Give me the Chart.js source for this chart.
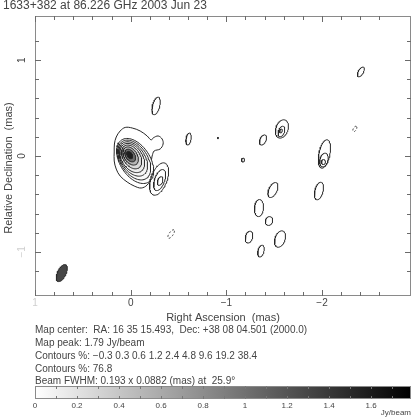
<!DOCTYPE html>
<html><head><meta charset="utf-8">
<script src="https://cdn.jsdelivr.net/npm/chart.js@4.4.1/dist/chart.umd.min.js"></script>
<style>
body{margin:0;background:#fff;}
#wrap{position:relative;width:415px;height:418px;overflow:hidden;font-family:"Liberation Sans",Arial,sans-serif;color:#444;}
.t{position:absolute;white-space:pre;line-height:1;}
.info{left:35px;font-size:10px;letter-spacing:0px;}
canvas{position:absolute;left:0;}
</style></head><body>
<div id="wrap">
<canvas id="map" width="415" height="325" style="top:0"></canvas>
<canvas id="cbar" width="415" height="40" style="top:378px"></canvas>
<div class="t" id="title" style="left:3px;top:-1.5px;font-size:12px"></div>
<div class="t info" id="l1" style="top:325px"></div>
<div class="t info" id="l2" style="top:338px"></div>
<div class="t info" id="l3" style="top:351px"></div>
<div class="t info" id="l4" style="top:364px"></div>
<div class="t info" id="l5" style="top:376px"></div>
<div class="t" id="unit" style="right:4px;top:409px;font-size:8px">Jy/beam</div>
</div>
<script>
// ---------- data ----------
const titleText = '1633+382 at 86.226 GHz 2003 Jun 23';
const peakJy = 1.79;
const contourLevelsPct = [-0.3, 0.3, 0.6, 1.2, 2.4, 4.8, 9.6, 19.2, 38.4, 76.8];

// axis ranges (mas)
const raMin = -2.93, raMax = 1.0, decMin = -1.46, decMax = 1.46;
const raLabelValues = [1, 0, -1, -2];
const raLabels = ['1', '0', '\u22121', '\u22122'];
const decLabelValues = [1, 0, -1];
const decLabels = ['1', '0', '\u22121'];

// core: outermost (0.3%) contour, read point by point (mas)
const outerRA  = [-0.224,-0.214,-0.224,-0.214,-0.172,-0.110,-0.037,0.037,0.110,0.151,0.172,0.172,0.170,0.151,0.110,0.057,-0.016,-0.099,-0.172,-0.214,-0.235,-0.287,-0.329,-0.339,-0.308,-0.245,-0.224];
const outerDec = [0.000,-0.073,-0.146,-0.230,-0.303,-0.334,-0.313,-0.271,-0.209,-0.136,-0.052,0.042,0.125,0.198,0.261,0.298,0.292,0.261,0.209,0.167,0.188,0.209,0.177,0.125,0.073,0.052,0.000];

// core: inner contours (levels 0.6% .. 76.8%) as ellipses (mas)
const coreLevel = [0.6, 1.2, 2.4, 4.8, 9.6, 19.2, 38.4, 76.8];
const coreRA    = [-0.047,-0.037,-0.026,-0.016,-0.010,0.000,0.005,0.010];
const coreDec   = [-0.052,-0.042,-0.031,-0.021,-0.010,0.000,0.005,0.010];
const coreMajor = [0.261,0.230,0.198,0.167,0.136,0.104,0.073,0.042];
const coreMinor = [0.157,0.141,0.125,0.110,0.089,0.068,0.047,0.026];
const coreTilt  = -33;

// other components (mas); tilt in degrees (top of ellipse toward lower RA positive)
const compLevel = [0.3,0.6,1.2, 0.3,0.3,0.3,0.3,0.6,1.2,0.3,0.3,-0.3,0.3,0.3,0.6,1.2,0.3,0.3,0.3,0.3,0.3,0.3,0.3,-0.3];
const compRA    = [-0.297,-0.303,-0.308,-0.266,-0.605,-1.383,-1.581,-1.576,-1.571,-2.406,-1.174,-2.343,-0.913,-2.025,-2.020,-2.015,-1.968,-1.487,-1.341,-1.446,-1.237,-1.561,-1.362,-0.423];
const compDec   = [-0.240,-0.251,-0.261,0.522,0.177,0.167,0.282,0.256,0.261,0.877,-0.042,0.282,0.188,0.021,-0.042,-0.063,-0.365,-0.355,-0.543,-0.678,-0.846,-0.866,-0.992,-0.814];
const compMajor = [0.177,0.115,0.047,0.094,0.063,0.057,0.099,0.057,0.021,0.057,0.021,0.031,0.008,0.151,0.073,0.026,0.094,0.084,0.089,0.047,0.063,0.089,0.063,0.052];
const compMinor = [0.084,0.052,0.026,0.037,0.026,0.031,0.063,0.031,0.013,0.026,0.016,0.016,0.005,0.057,0.042,0.021,0.042,0.042,0.047,0.037,0.037,0.052,0.031,0.021];
const compTilt  = [20,20,20,15,10,25,20,20,20,30,0,30,0,12,15,0,15,25,5,20,15,20,15,35];

// restoring beam
const beamRA = 0.720, beamDec = -1.221, beamMajor = 0.193, beamMinor = 0.0882, beamPA = 25.9;

// colour bar
const cbarTicks = [0, 0.2, 0.4, 0.6, 0.8, 1.0, 1.2, 1.4, 1.6];
const cbarMinor = [0.1,0.2,0.3,0.4,0.5,0.6,0.7,0.8,0.9,1.0,1.1,1.2,1.3,1.4,1.5,1.6,1.7];

// ---------- text ----------
const fmtLvl = v => (v < 0 ? '\u2212' + Math.abs(v) : String(v));
document.getElementById('title').textContent = titleText;
document.getElementById('l1').textContent = 'Map center:  RA: 16 35 15.493,  Dec: +38 08 04.501 (2000.0)';
document.getElementById('l2').textContent = 'Map peak: ' + peakJy + ' Jy/beam';
document.getElementById('l3').textContent = 'Contours %: ' + contourLevelsPct.slice(0, 9).map(fmtLvl).join(' ');
document.getElementById('l4').textContent = 'Contours %: ' + contourLevelsPct.slice(9).map(fmtLvl).join(' ');
document.getElementById('l5').textContent = 'Beam FWHM: ' + beamMajor + ' x ' + beamMinor + ' (mas) at  ' + beamPA + '\u00B0';

// ---------- helpers ----------
function ellipse(ra, dec, a, b, tiltDeg) {
  const t = tiltDeg * Math.PI / 180, pts = [];
  for (let k = 0; k <= 72; k++) {
    const f = 2 * Math.PI * k / 72, u = a * Math.cos(f), v = b * Math.sin(f);
    pts.push({x: ra - u * Math.sin(t) + v * Math.cos(t), y: dec + u * Math.cos(t) + v * Math.sin(t)});
  }
  return pts;
}
function grayFor(frac) {
  const g = Math.max(0, Math.min(255, Math.round(255 * (1 - frac))));
  return 'rgb(' + g + ',' + g + ',' + g + ')';
}
const lineCol = '#262626';
const datasets = [];

// beam
datasets.push({data: ellipse(beamRA, beamDec, beamMajor / 2, beamMinor / 2, beamPA), showLine: true, pointRadius: 0,
  borderColor: '#2a2a2a', borderWidth: 1, backgroundColor: '#464646', fill: 'shape', order: 0});

// core outer contour
datasets.push({data: outerRA.map((r, i) => ({x: r, y: outerDec[i]})), showLine: true, pointRadius: 0, tension: 0.35,
  borderColor: lineCol, borderWidth: 1, fill: false, order: 20});

// core inner contours, filled with the grey of the map between levels
coreLevel.forEach((lv, i) => {
  const next = i + 1 < coreLevel.length ? coreLevel[i + 1] : 100;
  const mid = (lv + next) / 200;
  datasets.push({data: ellipse(coreRA[i], coreDec[i], coreMajor[i], coreMinor[i], coreTilt), showLine: true, pointRadius: 0,
    borderColor: lineCol, borderWidth: 1, backgroundColor: grayFor(mid), fill: 'shape', order: 19 - i});
});

// other components
compLevel.forEach((lv, i) => {
  datasets.push({data: ellipse(compRA[i], compDec[i], compMajor[i], compMinor[i], compTilt[i]), showLine: true, pointRadius: 0,
    borderColor: lineCol, borderWidth: 1, borderDash: lv < 0 ? [2, 2] : [], fill: false, order: 1});
});

// ---------- decorations on the map ----------
const mapDecor = {
  id: 'mapDecor',
  afterDraw(chart) {
    const {ctx, chartArea: ca, scales: {x, y}} = chart;
    ctx.save();
    ctx.strokeStyle = '#8a8a8a'; ctx.lineWidth = 1;
    ctx.strokeRect(Math.round(ca.left) + 0.5, Math.round(ca.top) + 0.5, Math.round(ca.right - ca.left) - 1, Math.round(ca.bottom - ca.top) - 1);
    ctx.strokeStyle = '#6a6a6a';
    ctx.beginPath();
    const isStep = v => Math.abs(v * 5 - Math.round(v * 5)) < 1e-6;
    const isMajor = v => Math.abs(v - Math.round(v)) < 1e-6;
    x.ticks.forEach(t => {
      const v = t.value; if (!isStep(v)) return;
      const len = isMajor(v) ? 6 : 4, p = Math.round(x.getPixelForValue(v)) + 0.5;
      ctx.moveTo(p, ca.bottom); ctx.lineTo(p, ca.bottom - len);
      ctx.moveTo(p, ca.top); ctx.lineTo(p, ca.top + len);
    });
    y.ticks.forEach(t => {
      const v = t.value; if (!isStep(v)) return;
      const len = isMajor(v) ? 6 : 4, p = Math.round(y.getPixelForValue(v)) + 0.5;
      ctx.moveTo(ca.left, p); ctx.lineTo(ca.left + len, p);
      ctx.moveTo(ca.right, p); ctx.lineTo(ca.right - len, p);
    });
    ctx.stroke();
    ctx.fillStyle = '#444'; ctx.textAlign = 'center'; ctx.textBaseline = 'middle';
    ctx.font = '10px "Liberation Sans"';
    raLabelValues.forEach((v, i) => {
      ctx.fillStyle = (v === raMax) ? '#cfcfcf' : '#444';
      ctx.fillText(raLabels[i], x.getPixelForValue(v), ca.bottom + 7);
    });
    decLabelValues.forEach((v, i) => {
      ctx.fillStyle = (v === -1) ? '#cfcfcf' : '#444';
      ctx.save(); ctx.translate(ca.left - 13, y.getPixelForValue(v)); ctx.rotate(-Math.PI / 2);
      ctx.fillText(decLabels[i], 0, 0); ctx.restore();
    });
    ctx.fillStyle = '#444';
    ctx.font = '11px "Liberation Sans"';
    ctx.fillText('Right Ascension  (mas)', (ca.left + ca.right) / 2, ca.bottom + 22);
    ctx.save(); ctx.translate(9, (ca.top + ca.bottom) / 2 + 12); ctx.rotate(-Math.PI / 2);
    ctx.fillText('Relative Declination  (mas)', 0, 0); ctx.restore();
    ctx.restore();
  }
};

new Chart(document.getElementById('map'), {
  type: 'scatter',
  data: {datasets},
  options: {
    responsive: false, animation: false, devicePixelRatio: 1,
    layout: {padding: {top: 16, right: 4, left: 0, bottom: 0}},
    plugins: {legend: {display: false}, tooltip: {enabled: false}},
    scales: {
      x: {type: 'linear', reverse: true, min: raMin, max: raMax,
          ticks: {display: false, stepSize: 0.2}, grid: {display: false, drawTicks: false}, border: {display: false},
          afterFit(s) { s.height = 29; }},
      y: {type: 'linear', min: decMin, max: decMax,
          ticks: {display: false, stepSize: 0.2}, grid: {display: false, drawTicks: false}, border: {display: false},
          afterFit(s) { s.width = 35; }}
    }
  },
  plugins: [mapDecor]
});

// ---------- colour bar ----------
const cbarDecor = {
  id: 'cbarDecor',
  beforeDatasetsDraw(chart) {
    const {ctx, chartArea: ca, scales: {x}} = chart;
    const x0 = x.getPixelForValue(0), x1 = x.getPixelForValue(peakJy);
    const g = ctx.createLinearGradient(x0, 0, x1, 0);
    g.addColorStop(0, '#ffffff'); g.addColorStop(1, '#000000');
    ctx.save();
    ctx.fillStyle = g; ctx.fillRect(ca.left, ca.top, ca.right - ca.left, ca.bottom - ca.top);
    ctx.strokeStyle = '#8a8a8a'; ctx.lineWidth = 1;
    ctx.strokeRect(Math.round(ca.left) + 0.5, Math.round(ca.top) + 0.5, Math.round(ca.right - ca.left) - 1, Math.round(ca.bottom - ca.top) - 1);
    ctx.strokeStyle = '#777';
    ctx.beginPath();
    cbarMinor.forEach(v => {
      const p = Math.round(x.getPixelForValue(v)) + 0.5;
      ctx.moveTo(p, ca.top); ctx.lineTo(p, ca.top + 3);
      ctx.moveTo(p, ca.bottom); ctx.lineTo(p, ca.bottom - 3);
    });
    ctx.stroke();
    ctx.restore();
  }
};
new Chart(document.getElementById('cbar'), {
  type: 'scatter',
  data: {datasets: []},
  options: {
    responsive: false, animation: false, devicePixelRatio: 1,
    layout: {padding: {top: 8, right: 4, left: 35, bottom: 0}},
    plugins: {legend: {display: false}, tooltip: {enabled: false}},
    scales: {
      x: {type: 'linear', min: 0, max: peakJy,
          afterBuildTicks(s) { s.ticks = cbarTicks.map(v => ({value: v})); },
          ticks: {autoSkip: false, maxRotation: 0, padding: 2, color: '#444',
                  font: {family: '"Liberation Sans"', size: 8},
                  callback: v => (Math.abs(v - Math.round(v)) < 1e-9 ? String(Math.round(v)) : v.toFixed(1))},
          grid: {display: false, drawTicks: false}, border: {display: false},
          afterFit(s) { s.height = 19; }},
      y: {display: false, min: 0, max: 1}
    }
  },
  plugins: [cbarDecor]
});
</script>
</body></html>
